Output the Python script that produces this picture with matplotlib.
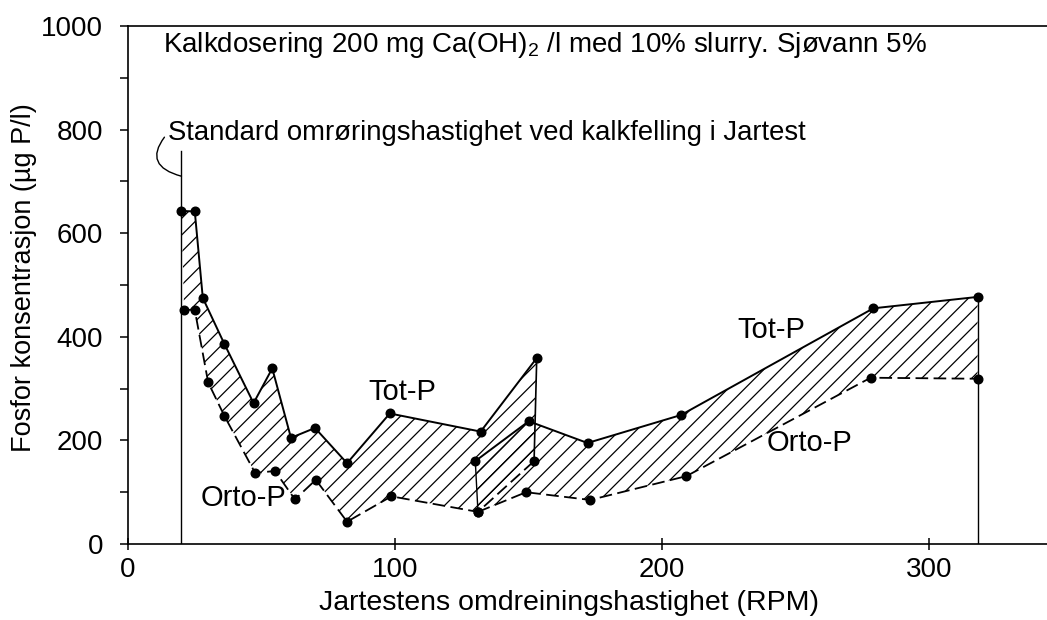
import numpy as np
import matplotlib
matplotlib.use('Agg')
import matplotlib.pyplot as plt

plt.rcParams['font.family'] = ['Liberation Sans', 'DejaVu Sans']
plt.rcParams['mathtext.fontset'] = 'custom'
plt.rcParams['mathtext.rm'] = 'Liberation Sans'
plt.rcParams['hatch.linewidth'] = 0.9

# first run (low rpm up to ~150)
tot1_x = [20, 25, 28, 36, 47, 54, 61, 70, 82, 98, 132, 153]
tot1_y = [643, 642, 475, 387, 272, 339, 205, 224, 156, 252, 217, 359]
orto1_x = [21, 25, 30, 36, 47.6, 55, 62.5, 70.3, 82, 98.6, 131, 152]
orto1_y = [452, 452, 312, 248, 137, 141, 86, 124, 43, 92, 62, 160]

# second run (130 - 320 rpm)
tot2_x = [130, 150, 172, 207, 279, 318]
tot2_y = [160, 237, 195, 249, 455, 477]
orto2_x = [131, 149, 173, 209, 278, 318]
orto2_y = [62, 100, 85, 131, 321, 319]

std_rpm = 20
std_top = 758

x_ticks = [0, 100, 200, 300]
y_ticks = [0, 200, 400, 600, 800, 1000]

title = 'Kalkdosering 200 mg Ca(OH)$_2$ /l med 10% slurry. Sjøvann 5%'
std_label = 'Standard omrøringshastighet ved kalkfelling i Jartest'

fig = plt.figure(figsize=(10.47, 6.2), dpi=100)
ax = fig.add_axes([128 / 1047, 1 - 544 / 620, 1 - 128 / 1047, (544 - 26) / 620])
ax.set_xlim(0, 344)
ax.set_ylim(0, 1000)

# hatched bands between Tot-P and Orto-P
for tx, ty, ox, oy in [(tot1_x, tot1_y, orto1_x, orto1_y),
                       (tot2_x, tot2_y, orto2_x, orto2_y)]:
    px = np.concatenate([tx, ox[::-1]])
    py = np.concatenate([ty, oy[::-1]])
    ax.fill(px, py, facecolor='none', edgecolor='black', hatch='//', linewidth=0)
    ax.plot(tx, ty, color='black', lw=1.4, marker='o', ms=6.2)
    ax.plot(ox, oy, color='black', lw=1.3, ls=(0, (7, 3)), marker='o', ms=6.2)

# closing verticals
ax.plot([tot1_x[-1], orto1_x[-1]], [tot1_y[-1], orto1_y[-1]], color='black', lw=1.2)
ax.plot([tot2_x[0], orto2_x[0]], [tot2_y[0], orto2_y[0]], color='black', lw=1.0)
ax.plot([tot2_x[-1], tot2_x[-1]], [0, tot2_y[-1]], color='black', lw=1.0)
ax.plot([std_rpm, std_rpm], [0, std_top], color='black', lw=1.0)

ax.text(13, 964, title, fontsize=20, va='center', ha='left')
ax.annotate(std_label, xy=(std_rpm, 710), xytext=(15, 794), fontsize=19.8,
            va='center', ha='left',
            arrowprops=dict(arrowstyle='-', color='black', lw=1.0,
                            connectionstyle='arc3,rad=0.8', relpos=(0, 0.5),
                            shrinkA=1, shrinkB=0))

ax.text(90, 294, 'Tot-P', fontsize=21, va='center', ha='left')
ax.text(228, 413, 'Tot-P', fontsize=21, va='center', ha='left')
ax.text(27, 89, 'Orto-P', fontsize=21, va='center', ha='left')
ax.text(239, 195, 'Orto-P', fontsize=21, va='center', ha='left')

ax.spines['right'].set_visible(False)
for s in ['left', 'bottom', 'top']:
    ax.spines[s].set_linewidth(1.2)

ax.set_xticks(x_ticks)
ax.set_yticks(y_ticks)
ax.set_yticks(np.arange(100, 1000, 200), minor=True)
ax.tick_params(axis='y', which='both', direction='out', length=6, width=1.1, labelsize=20, pad=12)
ax.tick_params(axis='x', direction='inout', length=9, width=1.1, labelsize=20, pad=5)

fig.text(569 / 1047, 1 - 603 / 620, 'Jartestens omdreiningshastighet (RPM)',
         fontsize=20.5, ha='center', va='center')
fig.text(24 / 1047, 1 - 278 / 620, 'Fosfor konsentrasjon (µg P/l)',
         fontsize=19.5, ha='center', va='center', rotation=90)

fig.savefig('out.png', dpi=100)
